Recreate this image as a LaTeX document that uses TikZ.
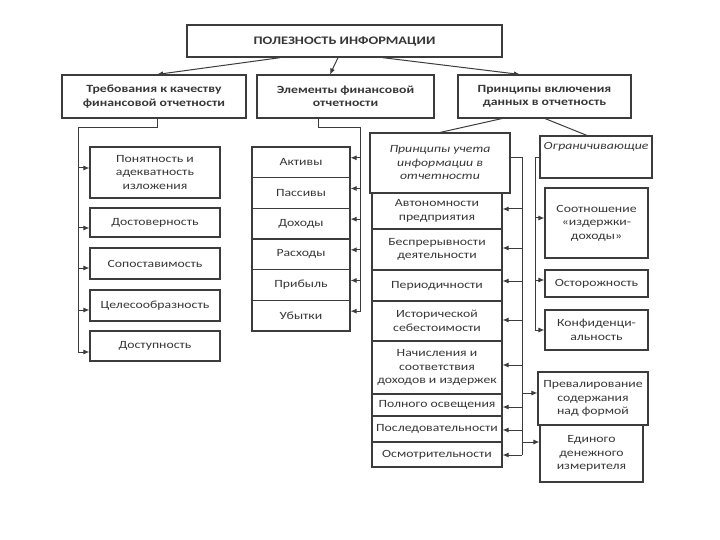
\documentclass[tikz,border=0pt]{standalone}
\usepackage{fontspec}
\setmainfont{Carlito}
\newfontfamily\bodyf{Carlito}[FakeStretch=1.25]
\usetikzlibrary{arrows.meta}
\definecolor{linec}{RGB}{60,60,60}
\definecolor{txt}{RGB}{55,55,55}
\newcommand\bfnt{\bodyf\fontsize{11}{13.5}\selectfont}
\begin{document}
\begin{tikzpicture}[x=1pt,y=-1pt,
  box/.style={draw=linec, line width=1.1pt, fill=white, align=center, inner sep=1pt, font=\bfnt, text=txt},
  head/.style={box, font=\bfnt\bfseries},
  ital/.style={box, font=\bfnt\itshape},
  arr/.style={draw=linec, line width=1pt, -{Latex[length=6pt,width=5pt]}},
  ln/.style={draw=linec, line width=1pt}]
\useasboundingbox[fill=white] (0,0) rectangle (720,540);
% top
\node[head, line width=1.4pt, minimum width=315, minimum height=32, font=\bodyf\fontsize{11.5}{13}\selectfont\bfseries] (top) at (344.5,41) {ПОЛЕЗНОСТЬ ИНФОРМАЦИИ};
\node[head, minimum width=184, minimum height=43] (req) at (154,96.5) {Требования к качеству\\финансовой отчетности};
\node[head, minimum width=177, minimum height=43] (elem) at (345.5,96.5) {Элементы финансовой\\отчетности};
\node[head, minimum width=173, minimum height=43] (princ) at (544.5,96.5) {Принципы включения\\данных в отчетность};
\draw[arr] ([xshift=-64.5]top.south) -- ([xshift=3]req.north);
\draw[arr] ([xshift=-6.5]top.south) -- ([xshift=-15.5]elem.north);
\draw[arr] ([xshift=38.5]top.south) -- ([xshift=-24.5]princ.north);
% requirements
\node[box, minimum width=130, minimum height=51] (r1) at (155,172.5) {Понятность и\\адекватность\\изложения};
\node[box, minimum width=130, minimum height=29] (r2) at (155,222.5) {Достоверность};
\node[box, minimum width=130, minimum height=31] (r3) at (155,263.5) {Сопоставимость};
\node[box, minimum width=130, minimum height=31] (r4) at (155,305.5) {Целесообразность};
\node[box, minimum width=130, minimum height=30] (r5) at (155,346) {Доступность};
\coordinate (lb) at (78,128);
\draw[ln] ([xshift=3]req.south) |- (lb) -- ([yshift=-6]lb |- r5.west);
\foreach \n/\d in {r1/4.5,r2/-5.5,r3/-4.5,r4/-4.5,r5/-6} \draw[arr] ([yshift=\d]lb |- \n.west) -- ([yshift=\d]\n.west);
% elements
\foreach \n/\t [count=\i from 0] in {e1/Активы,e2/Пассивы,e3/Доходы,e4/Расходы,e5/Прибыль,e6/Убытки}
  \node[box, minimum width=98, minimum height=30.67] (\n) at (301,{162.3+30.67*\i}) {\t};
\coordinate (eb) at (360,128);
\draw[ln] ([xshift=-27.5]elem.south) |- (eb) -- ([yshift=4]eb |- e6.east);
\foreach \n in {e1,e2,e3,e4,e5,e6} \draw[arr] ([yshift=4.5]eb |- \n.east) -- ([yshift=4.5]\n.east);
% principles
\node[ital, minimum width=140, minimum height=60] (p0) at (440,163) {Принципы учета\\информации в\\отчетности};
\node[box, minimum width=130, minimum height=36] (p1) at (437,211) {Автономности\\предприятия};
\node[box, minimum width=130, minimum height=41] (p2) at (437,249.5) {Беспрерывности\\деятельности};
\node[box, minimum width=130, minimum height=31] (p3) at (437,285.5) {Периодичности};
\node[box, minimum width=130, minimum height=40] (p4) at (437,321) {Исторической\\себестоимости};
\node[box, minimum width=130, minimum height=53] (p5) at (437,367.5) {Начисления и\\соответствия\\доходов и издержек};
\node[box, minimum width=130, minimum height=22] (p6) at (437,405) {Полного освещения};
\node[box, minimum width=130, minimum height=26] (p7) at (437,429) {Последовательности};
\node[box, minimum width=130, minimum height=25] (p8) at (437,454.5) {Осмотрительности};
\draw[ln] ([xshift=-42.5]princ.south) -- (p0.north);
% restrictions
\node[ital, minimum width=112, minimum height=42, text depth=22] (o0) at (596,157) {Ограничивающие};
\node[box, minimum width=103, minimum height=70] (o1) at (596.5,223) {Соотношение\\«издержки-\\доходы»};
\node[box, minimum width=103, minimum height=27] (o2) at (596.5,283.5) {Осторожность};
\node[box, minimum width=103, minimum height=40] (o3) at (596.5,330) {Конфиденци-\\альность};
\node[box, minimum width=110, minimum height=53] (o4) at (593,398.5) {Превалирование\\содержания\\над формой};
\node[box, minimum width=103, minimum height=57] (o5) at (591.5,453.5) {Единого\\денежного\\измерителя};
\draw[ln] ([xshift=0.5]princ.south) -- ([xshift=-9]o0.north);
% principles bracket
\coordinate (pb) at (522,158);
\draw[ln] ([yshift=5]p0.east) -- (pb) -- ([yshift=-0.5]pb |- p8.east);
\foreach \n/\d in {p1/2,p2/1.5,p3/4.5,p4/1,p5/2.5,p6/-2,p7/-1,p8/-0.5}
  \draw[arr] ([yshift=\d]pb |- \n.east) -- ([yshift=\d]\n.east);
\draw[arr] ([yshift=5.5]pb |- o4.west) -- ([yshift=5.5]o4.west);
\draw[arr] ([yshift=11.5]pb |- o5.west) -- ([yshift=11.5]o5.west);
% restrictions bracket
\coordinate (ob) at (535,158);
\draw[ln] ([yshift=-1]o0.west) -- (ob) -- (ob |- o3.west);
\foreach \n/\d in {o1/5,o2/3.5,o3/0} \draw[arr] ([yshift=\d]ob |- \n.west) -- ([yshift=\d]\n.west);
\end{tikzpicture}
\end{document}
